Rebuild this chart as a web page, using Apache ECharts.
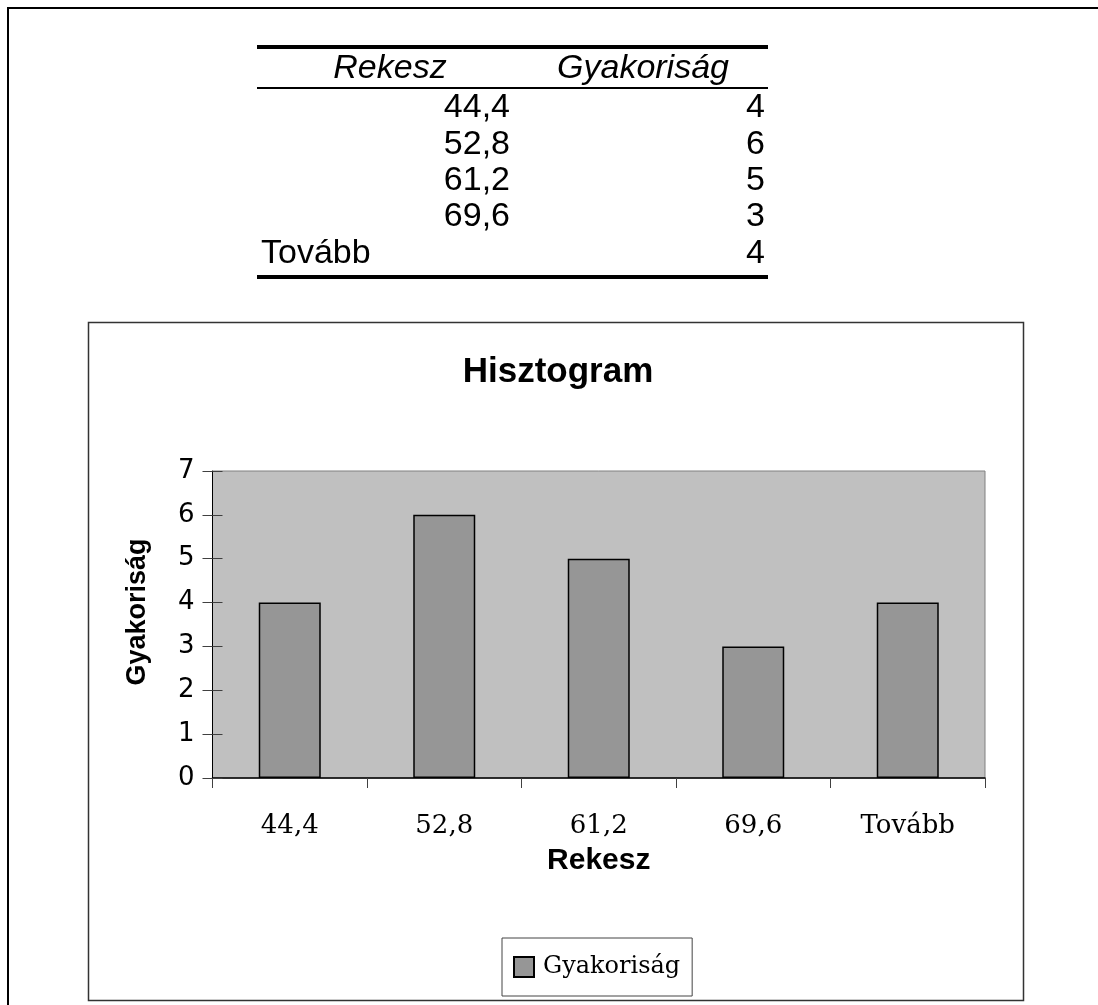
<!DOCTYPE html>
<html>
<head>
<meta charset="utf-8">
<script src="https://cdn.jsdelivr.net/npm/echarts@6/dist/echarts.min.js"></script>
<style>
  html, body { margin: 0; padding: 0; background: #fff; }
  #frame { position: absolute; left: 7px; top: 7px; width: 1091px; height: 998px;
           border-top: 2px solid #000; border-left: 2px solid #000; box-sizing: border-box; }
  #chart { position: absolute; left: 0; top: 0; width: 1098px; height: 1005px; }
</style>
</head>
<body>
<div id="frame"></div>
<div id="chart"></div>
<script>
// ---- data ----
const categories = ['44,4', '52,8', '61,2', '69,6', 'Tovább'];
const frequencies = [4, 6, 5, 3, 4];
const tableHeaders = ['Rekesz', 'Gyakoriság'];
const chartTitle = 'Hisztogram';
const xAxisTitle = 'Rekesz';
const yAxisTitle = 'Gyakoriság';
const seriesName = 'Gyakoriság';
const yMin = 0, yMax = 7, yStep = 1;

// ---- table (built from the arrays) ----
const tableFont = '34px "Liberation Sans", Arial, sans-serif';
const tableGraphics = [];
const tLeft = 257, tRight = 768;
tableGraphics.push({ type: 'rect', shape: { x: tLeft, y: 45, width: tRight - tLeft, height: 4 }, style: { fill: '#000' } });
tableGraphics.push({ type: 'rect', shape: { x: tLeft, y: 87, width: tRight - tLeft, height: 2 }, style: { fill: '#000' } });
tableGraphics.push({ type: 'text', x: 390, y: 69, style: { text: tableHeaders[0], font: 'italic ' + tableFont, fill: '#000', align: 'center', verticalAlign: 'middle' } });
tableGraphics.push({ type: 'text', x: 643, y: 69, style: { text: tableHeaders[1], font: 'italic ' + tableFont, fill: '#000', align: 'center', verticalAlign: 'middle' } });
const rowStart = 108, rowStep = 36.3;
categories.forEach((c, i) => {
  const y = rowStart + i * rowStep;
  const isNum = !isNaN(parseFloat(c.replace(',', '.')));
  tableGraphics.push({ type: 'text', x: isNum ? 510 : 261, y: y,
    style: { text: c, font: tableFont, fill: '#000', align: isNum ? 'right' : 'left', verticalAlign: 'middle' } });
  tableGraphics.push({ type: 'text', x: 765, y: y,
    style: { text: String(frequencies[i]), font: tableFont, fill: '#000', align: 'right', verticalAlign: 'middle' } });
});
tableGraphics.push({ type: 'rect', shape: { x: tLeft, y: 275, width: tRight - tLeft, height: 4 }, style: { fill: '#000' } });

const chart = echarts.init(document.getElementById('chart'), null, { renderer: 'canvas' });
const option = {
  animation: false,
  backgroundColor: 'transparent',
  graphic: [
    { type: 'rect', z: -10, shape: { x: 88.5, y: 322.5, width: 935, height: 678 },
      style: { fill: '#fff', stroke: '#333', lineWidth: 1.5 } },
    { type: 'text', x: 558, y: 372, z: 10,
      style: { text: chartTitle, font: 'bold 35px "Liberation Sans", Arial, sans-serif', fill: '#000', align: 'center', verticalAlign: 'middle' } },
    { type: 'text', x: 138, y: 612, rotation: Math.PI / 2, z: 10,
      style: { text: yAxisTitle, font: 'bold 27px "Liberation Sans", Arial, sans-serif', fill: '#000', align: 'center', verticalAlign: 'middle' } }
  ].concat(tableGraphics),
  grid: {
    left: 212.5, top: 471, right: 113, bottom: 227,
    show: true, backgroundColor: '#c0c0c0', borderColor: '#808080', borderWidth: 1
  },
  legend: {
    show: true,
    left: 502, top: 938,
    padding: [17, 12, 17, 11],
    itemWidth: 20, itemHeight: 20, itemGap: 0,
    borderColor: '#444', borderWidth: 1,
    backgroundColor: '#fff',
    icon: 'rect',
    textStyle: { fontFamily: '"DejaVu Serif", serif', fontSize: 24, lineHeight: 20, color: '#000', padding: [0, 0, 0, 4] },
    data: [seriesName]
  },
  xAxis: {
    type: 'category',
    data: categories,
    boundaryGap: true,
    name: xAxisTitle,
    nameLocation: 'middle',
    nameGap: 68,
    nameTextStyle: { fontFamily: '"Liberation Sans", Arial, sans-serif', fontWeight: 'bold', fontSize: 30, color: '#000' },
    axisLine: { show: true, lineStyle: { color: '#000', width: 1.5 } },
    axisTick: { show: true, alignWithLabel: false, length: 10, lineStyle: { color: '#404040', width: 1 } },
    axisLabel: { margin: 35, fontFamily: '"DejaVu Serif", serif', fontSize: 26, color: '#000', interval: 0 },
    splitLine: { show: false }
  },
  yAxis: [
    {
      type: 'value', min: yMin, max: yMax, interval: yStep,
      axisLine: { show: true, lineStyle: { color: '#000', width: 1 } },
      axisTick: { show: true, length: 10, lineStyle: { color: '#404040', width: 1 } },
      axisLabel: { margin: 18, fontFamily: '"DejaVu Sans", sans-serif', fontSize: 26, color: '#000' },
      splitLine: { show: false }
    },
    {
      type: 'value', min: yMin, max: yMax, interval: yStep,
      position: 'left',
      axisLine: { show: false },
      axisTick: { show: true, inside: true, length: 10, lineStyle: { color: '#404040', width: 1 } },
      axisLabel: { show: false },
      splitLine: { show: false }
    }
  ],
  series: [{
    name: seriesName,
    type: 'bar',
    data: frequencies,
    barWidth: 62,
    itemStyle: { color: '#969696', borderColor: '#000', borderWidth: 1.5 }
  }]
};
chart.setOption(option);
</script>
</body>
</html>
